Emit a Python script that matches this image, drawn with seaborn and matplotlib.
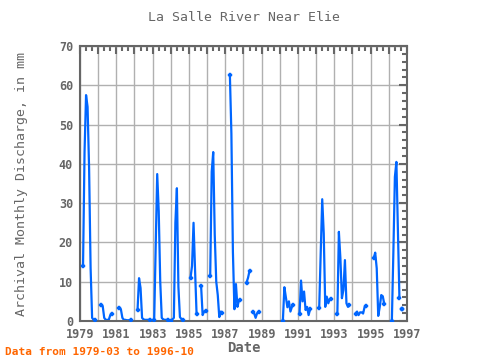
import numpy as np
import pandas as pd
import matplotlib
matplotlib.use("Agg")
import matplotlib.pyplot as plt
import seaborn as sns
from matplotlib.ticker import MultipleLocator

nan = np.nan

# --- monthly discharge (mm), Jan..Dec for each year, nan = no data ---
q1979 = [nan, nan, 14, 43, 57.5, 54.5, 39, 13.5, 0.8, 0.3, 0.2, nan]
q1980 = [nan, nan, 4.0, 3.8, 0.8, 0.3, 0.3, 0.3, 1.5, 1.9, nan, nan]
q1981 = [nan, nan, 3.4, 3.0, 0.8, 0.3, 0.3, 0.2, 0.2, 0.2, 0.3, nan]
q1982 = [nan, nan, 2.8, 10.9, 8.4, 0.8, 0.4, 0.3, 0.3, 0.3, 0.3, nan]
q1983 = [nan, 0.2, 19, 37.4, 28, 10, 0.8, 0.4, 0.3, 0.3, 0.2, nan]
q1984 = [0.1, 0.4, 0.8, 25, 33.8, 8.7, 1.0, 0.5, 0.3, nan, nan, nan]
q1985 = [nan, 11, 14, 25, 13, 1.8, nan, nan, 8.9, 1.5, 2.4, 2.6]
q1986 = [nan, nan, 11.4, 38, 43, 22, 10, 6.6, 1.0, 2.4, 2.1, nan]
q1987 = [nan, nan, nan, 62.7, 47.7, 17.6, 3.0, 9.4, 3.6, 5.3, 5.3, nan]
q1988 = [nan, nan, 9.8, 11, 12.8, nan, 2.2, 2.0, 0.8, 2.0, 2.3, nan]
q1989 = [nan] * 12
q1990 = [nan, nan, 0.0, 8.6, 6.0, 3.5, 5.0, 2.4, 3.6, 4.0, nan, nan]
q1991 = [nan, 1.8, 10.3, 5.0, 7.5, 2.8, 3.6, 1.5, 3.0, nan, nan, nan]
q1992 = [nan, nan, 3.2, 17.3, 31, 22.3, 3.6, 6.2, 4.5, 5.6, 5.5, nan]
q1993 = [nan, nan, 1.8, 22.7, 16, 5.8, 7.9, 15.5, 4.5, 3.6, 4.0, nan]
q1994 = [nan, nan, 1.9, 2.4, 1.5, 2.2, 2.2, 1.9, 3.6, 3.8, nan, nan]
q1995 = [nan, nan, 16, 17.4, 13.4, 1.3, 3.6, 6.6, 6.3, 4.3, nan, nan]
q1996 = [nan, nan, 0.0, 17.6, 36.7, 40.5, 23, 5.8, nan, 3.0, nan, nan]

years = list(range(1979, 1997))
yearly = [q1979, q1980, q1981, q1982, q1983, q1984, q1985, q1986, q1987,
          q1988, q1989, q1990, q1991, q1992, q1993, q1994, q1995, q1996]

rows = []
for yr, vals in zip(years, yearly):
    for m, v in enumerate(vals):
        rows.append((yr + m / 12.0, v))
df = pd.DataFrame(rows, columns=["t", "q"])
df["seg"] = df["q"].isna().cumsum()
df = df.dropna()

# segment ends get a marker, like the original plot
ends = pd.concat([df.groupby("seg").head(1), df.groupby("seg").tail(1)])

sns.set_style("white")
plt.rcParams["font.family"] = ["DejaVu Sans Mono"]

grey = "#666666"
blue = "#0066ff"
fig = plt.figure(figsize=(4.8, 3.6), dpi=100)
ax = fig.add_axes([80 / 480, 1 - 321 / 360, 327 / 480, 275 / 360])

sns.lineplot(data=df, x="t", y="q", units="seg", estimator=None,
             color=blue, linewidth=1.6, ax=ax, legend=False)
sns.scatterplot(data=ends, x="t", y="q", marker="P", s=10, color=blue,
                edgecolor=blue, linewidth=0.3, ax=ax, legend=False, zorder=3)

ax.set_xlim(1979, 1997)
ax.set_ylim(0, 70)
ax.xaxis.set_major_locator(MultipleLocator(1))
ax.xaxis.set_minor_locator(MultipleLocator(1 / 3))
ax.yaxis.set_major_locator(MultipleLocator(10))
ax.yaxis.set_minor_locator(MultipleLocator(2))
ax.set_xticklabels([str(int(round(t))) if int(round(t)) % 2 == 1 else ""
                    for t in ax.get_xticks()])
ax.grid(True, which="major", color="#b0b0b0", linewidth=1)
ax.tick_params(which="both", direction="in", top=True, right=True,
               colors=grey, labelcolor=grey, labelsize=8.5)
ax.tick_params(which="major", length=6, width=1.5, pad=5)
ax.tick_params(which="minor", length=3.5, width=1.5)
for lab in ax.get_xticklabels() + ax.get_yticklabels():
    lab.set_fontweight("bold")
for s in ax.spines.values():
    s.set_color(grey)
    s.set_linewidth(1.5)

ax.set_title("La Salle River Near Elie", color=grey, fontsize=9.5, pad=18)
ax.set_xlabel("Date", color=grey, fontsize=10, fontweight="bold", labelpad=0)
ax.set_ylabel("Archival Monthly Discharge, in mm", color=grey, fontsize=9.5,
              labelpad=22)
fig.text(5 / 480, 1 - 355 / 360, "Data from 1979-03 to 1996-10",
         color="#ff6600", fontsize=8, fontweight="bold")

fig.savefig("out.png", dpi=100)
